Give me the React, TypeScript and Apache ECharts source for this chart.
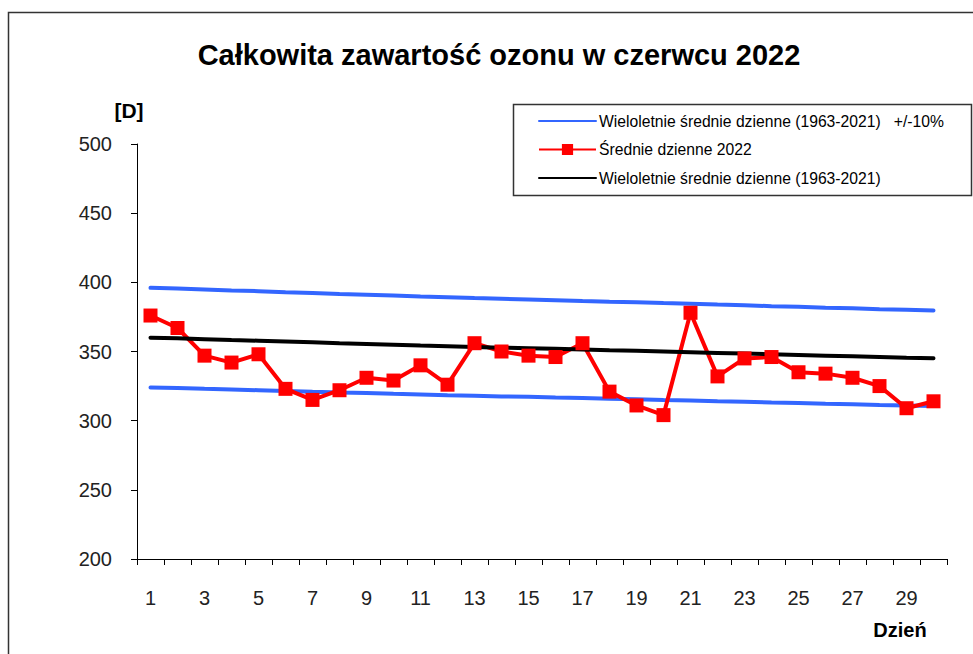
import React, { useEffect, useRef } from 'react';
import * as echarts from 'echarts';

const days = ['1', '2', '3', '4', '5', '6', '7', '8', '9', '10', '11', '12', '13', '14', '15', '16', '17', '18', '19', '20', '21', '22', '23', '24', '25', '26', '27', '28', '29', '30'];

const daily2022 = [376, 367, 347, 342, 348, 323, 315, 322, 331, 329, 340, 326, 356, 350, 347, 346, 356, 321, 311, 304, 378, 332, 345, 346, 335, 334, 331, 325, 309, 314];

const longTermMean = [360.0, 359.5, 358.9, 358.3, 357.8, 357.2, 356.6, 356.0, 355.5, 354.9, 354.3, 353.8, 353.3, 352.8, 352.4, 351.9, 351.4, 350.9, 350.5, 350.0, 349.5, 349.0, 348.5, 348.0, 347.5, 347.0, 346.5, 346.0, 345.5, 345.1];

const upperBand = [396.0, 395.5, 394.8, 394.1, 393.6, 392.9, 392.3, 391.6, 391.1, 390.4, 389.7, 389.2, 388.6, 388.1, 387.6, 387.1, 386.5, 386.0, 385.6, 385.0, 384.5, 383.9, 383.4, 382.8, 382.3, 381.7, 381.2, 380.6, 380.1, 379.6];

const lowerBand = [324.0, 323.6, 323.0, 322.5, 322.0, 321.5, 320.9, 320.4, 320.0, 319.4, 318.9, 318.4, 318.0, 317.5, 317.2, 316.7, 316.3, 315.8, 315.5, 315.0, 314.6, 314.1, 313.7, 313.2, 312.8, 312.3, 311.9, 311.4, 311.0, 310.6];

const yMin = 200;
const yMax = 500;
const yStep = 50;

const titleText = 'Całkowita zawartość ozonu w czerwcu 2022';
const bandName = 'Wieloletnie średnie dzienne (1963-2021)   +/-10%';
const dailyName = 'Średnie dzienne 2022';
const meanName = 'Wieloletnie średnie dzienne (1963-2021)';
const yUnit = '[D]';
const xUnit = 'Dzień';

const FONT = '"Liberation Sans", Arial, sans-serif';

export default function App() {
  const ref = useRef<HTMLDivElement>(null);
  useEffect(() => {
    const chart = echarts.init(ref.current!, null, { renderer: 'svg' });
    const hiddenSymbol = { color: 'transparent', borderWidth: 0, opacity: 0 };
    chart.setOption({
      animation: false,
      backgroundColor: '#fff',
      textStyle: { fontFamily: FONT },
      title: {
        text: titleText,
        left: 499,
        top: 40,
        padding: 0,
        textAlign: 'center',
        textStyle: { fontFamily: FONT, fontSize: 29, fontWeight: 'bold', color: '#000' },
      },
      graphic: [
        {
          type: 'rect',
          silent: true,
          z: -10,
          shape: { x: 8.5, y: 12.5, width: 1200, height: 900 },
          style: { fill: 'none', stroke: '#333', lineWidth: 1.5 },
        },
        {
          type: 'rect',
          silent: true,
          z: 0,
          shape: { x: 513.5, y: 104.5, width: 458, height: 91 },
          style: { fill: '#fff', stroke: '#333', lineWidth: 1.5 },
        },
        {
          type: 'text',
          x: 129,
          y: 110,
          style: { text: yUnit, fontFamily: FONT, fontSize: 21, fontWeight: 'bold', fill: '#000', align: 'center', verticalAlign: 'middle' },
        },
        {
          type: 'text',
          x: 900,
          y: 630,
          style: { text: xUnit, fontFamily: FONT, fontSize: 20, fontWeight: 'bold', fill: '#000', align: 'center', verticalAlign: 'middle' },
        },
      ],
      legend: {
        orient: 'vertical',
        left: 538,
        top: 113,
        padding: 0,
        itemWidth: 57,
        itemHeight: 14,
        itemGap: 12.5,
        z: 5,
        data: [
          { name: bandName, itemStyle: hiddenSymbol },
          { name: dailyName },
          { name: meanName, itemStyle: hiddenSymbol },
        ],
        textStyle: { fontFamily: FONT, fontSize: 15.7, color: '#000', padding: [0, 0, 0, -2] },
      },
      grid: { left: 137, right: 26, top: 144, bottom: 95, containLabel: false },
      xAxis: {
        type: 'category',
        data: days,
        boundaryGap: true,
        axisLine: { show: true, lineStyle: { color: '#000', width: 1 } },
        axisTick: { show: true, interval: 0, length: 6, lineStyle: { color: '#000' } },
        axisLabel: { interval: 1, margin: 29, fontSize: 20, color: '#222', fontFamily: FONT },
        splitLine: { show: false },
      },
      yAxis: {
        type: 'value',
        min: yMin,
        max: yMax,
        interval: yStep,
        axisLine: { show: true, lineStyle: { color: '#000', width: 1 } },
        axisTick: { show: true, length: 6, lineStyle: { color: '#000' } },
        axisLabel: { margin: 25, fontSize: 20, color: '#222', fontFamily: FONT },
        splitLine: { show: false },
      },
      series: [
        {
          name: bandName,
          type: 'line',
          data: upperBand,
          symbol: 'none',
          lineStyle: { color: '#3366ff', width: 4, cap: 'round' },
          itemStyle: { color: '#3366ff' },
        },
        {
          name: bandName,
          type: 'line',
          data: lowerBand,
          symbol: 'none',
          lineStyle: { color: '#3366ff', width: 4, cap: 'round' },
          itemStyle: { color: '#3366ff' },
        },
        {
          name: dailyName,
          type: 'line',
          data: daily2022,
          symbol: 'rect',
          symbolSize: 14,
          lineStyle: { color: '#ff0000', width: 4 },
          itemStyle: { color: '#ff0000' },
        },
        {
          name: meanName,
          type: 'line',
          data: longTermMean,
          symbol: 'none',
          lineStyle: { color: '#000', width: 4, cap: 'round' },
          itemStyle: { color: '#000' },
        },
      ],
    });
    return () => chart.dispose();
  }, []);
  return (
    <div
      ref={ref}
      style={{ position: 'fixed', left: 0, top: 0, width: 973, height: 654, background: '#fff' }}
    />
  );
}
